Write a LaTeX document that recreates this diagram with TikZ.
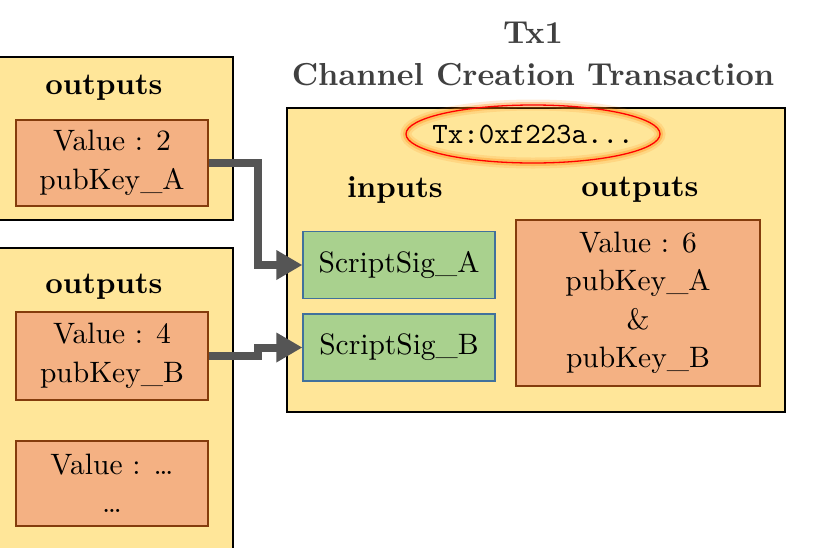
\documentclass[tikz,border=0pt]{standalone}
\usepackage{fontspec}
\setmainfont{lmroman10-regular.otf}[BoldFont=lmroman10-bold.otf, ItalicFont=lmroman10-italic.otf]
\setmonofont{lmmono10-regular.otf}
\usepackage{xcolor}
\usepackage{tikz}
\usetikzlibrary{arrows.meta,positioning,shapes.geometric}
\definecolor{txYellow}{HTML}{FFE699}
\definecolor{txOrange}{HTML}{F4B183}
\definecolor{txBrown}{HTML}{843C0C}
\definecolor{txGreen}{HTML}{A9D18E}
\definecolor{txBlue}{HTML}{41719C}
\definecolor{txArrow}{HTML}{555555}
\definecolor{txTitle}{HTML}{404040}
\newcommand\txfont{\fontsize{29.5}{38.5}\selectfont}
\newcommand\txhead{\fontsize{30.5}{42}\selectfont\bfseries}
\tikzset{
  blockbox/.style={draw=black, line width=1.2pt, fill=txYellow},
  outbox/.style={draw=txBrown, line width=1.2pt, fill=txOrange, align=center,
                 minimum width=192pt, font=\txfont, inner sep=0pt},
  sigbox/.style={draw=txBlue, line width=1.2pt, fill=txGreen, align=center,
                 minimum width=192pt, minimum height=67pt, font=\txfont, inner sep=0pt},
  headtxt/.style={font=\txhead, inner sep=0pt},
  idring/.style={draw=red, line width=1.3pt,
                 preaction={draw=orange, line width=11pt, opacity=0.15},
                 preaction={draw=orange, line width=6pt, opacity=0.3}},
  txarr/.style={-{Triangle[length=26pt,width=28pt]}, line width=8pt, draw=txArrow},
}

\begin{document}
\begin{tikzpicture}[x=1pt, y=-1pt]
    \useasboundingbox (0,0) rectangle (822,547);
    % previous transactions
    \draw[blockbox] (-10,57) rectangle (233,220);
    \node[headtxt] (outA) at (104,88) {outputs};
    \node[outbox, minimum height=86pt] (valA) at (112,163) {Value : 2\\pubKey\_A};
    \draw[blockbox] (-10,248) -- (233,248) -- (233,560) -- (-10,560);
    \node[headtxt] (outB) at (104,287) {outputs};
    \node[outbox, minimum height=88pt] (valB) at (112,356) {Value : 4\\pubKey\_B};
    \node[outbox, minimum height=85pt] (valX) at (112,483.5) {Value : \ldots\\\ldots};
    % Tx1
    \node[font=\fontsize{31.8}{42}\selectfont\bfseries, text=txTitle, align=center] (title) at (533,54)
      {Tx1\\Channel Creation Transaction};
    \draw[blockbox] (287,108) rectangle (785,412);
    \node[font=\txfont\ttfamily, inner sep=0pt] (txid) at (533,134) {Tx:0xf223a...};
    \draw[idring] (txid.center) ellipse [x radius=127, y radius=29];
    \node[headtxt] (inputs) at (395,190) {inputs};
    \node[headtxt] (outputs) at (640,190) {outputs};
    \node[sigbox] (sigA) at (399,265) {ScriptSig\_A};
    \node[sigbox] (sigB) at (399,347.5) {ScriptSig\_B};
    \node[outbox, minimum width=244pt, minimum height=166pt] (multi) at (638,303)
      {Value : 6\\pubKey\_A\\\&\\pubKey\_B};
    % spending
    \draw[txarr] (valA.east) -- ++(49,0) |- (sigA.west);
    \draw[txarr] (valB.east) -- ++(49,0) |- (sigB.west);
\end{tikzpicture}
\end{document}
